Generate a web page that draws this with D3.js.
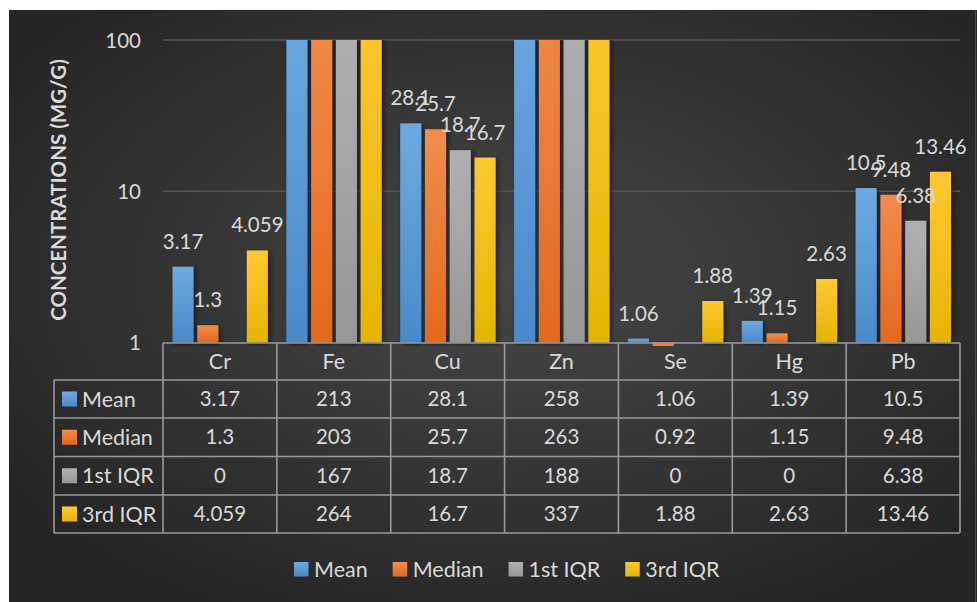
<!DOCTYPE html>
<html>
<head>
<meta charset="utf-8">
<script src="https://cdn.jsdelivr.net/npm/d3@7"></script>
<style>
  html, body { margin: 0; padding: 0; background: #ffffff; }
  svg { display: block; }
  text { font-family: Lato, "Open Sans", sans-serif; fill: #d9d9d9; }
</style>
</head>
<body>
<svg id="chart" width="977" height="602"></svg>
<script>
// Element concentrations (mg/g)
const categories = ["Cr", "Fe", "Cu", "Zn", "Se", "Hg", "Pb"];
const seriesNames = ["Mean", "Median", "1st IQR", "3rd IQR"];
const meanValues   = [3.17, 213, 28.1, 258, 1.06, 1.39, 10.5];
const medianValues = [1.3, 203, 25.7, 263, 0.92, 1.15, 9.48];
const iqr1Values   = [0, 167, 18.7, 188, 0, 0, 6.38];
const iqr3Values   = [4.059, 264, 16.7, 337, 1.88, 2.63, 13.46];
const yTicks = [1, 10, 100];

const seriesValues = [meanValues, medianValues, iqr1Values, iqr3Values];
const colorStops = [
  ["#6fa9e0", "#4a89cb"],
  ["#f28c4e", "#e3691c"],
  ["#b0b0b0", "#979797"],
  ["#ffc834", "#e6b400"]
];
const numSize = 20.5;  // numbers
const wordSize = 21.5; // names and legend text

const svg = d3.select("#chart");
const defs = svg.append("defs");

// chart background
const bg = defs.append("radialGradient").attr("id", "bgGrad")
  .attr("cx", "52%").attr("cy", "45%").attr("r", "62%");
bg.append("stop").attr("offset", "0%").attr("stop-color", "#474747");
bg.append("stop").attr("offset", "100%").attr("stop-color", "#262626");

colorStops.forEach((c, i) => {
  const g = defs.append("linearGradient").attr("id", "grad" + i)
    .attr("x1", 0).attr("y1", 0).attr("x2", 0).attr("y2", 1);
  g.append("stop").attr("offset", "0%").attr("stop-color", c[0]);
  g.append("stop").attr("offset", "100%").attr("stop-color", c[1]);
});

const shadow = defs.append("filter").attr("id", "barShadow")
  .attr("x", "-50%").attr("y", "-10%").attr("width", "200%").attr("height", "130%");
shadow.append("feDropShadow").attr("dx", 2).attr("dy", 2)
  .attr("stdDeviation", 2.5).attr("flood-color", "#000").attr("flood-opacity", 0.55);

const plot = { left: 163, right: 960, top: 40, bottom: 342.5 };
defs.append("clipPath").attr("id", "plotClip").append("rect")
  .attr("x", plot.left - 5).attr("y", plot.top)
  .attr("width", plot.right - plot.left + 10).attr("height", 346 - plot.top);

svg.append("rect").attr("x", 9).attr("y", 10).attr("width", 968).attr("height", 592)
  .attr("fill", "url(#bgGrad)");
svg.append("line").attr("x1", 975.5).attr("x2", 975.5).attr("y1", 10).attr("y2", 602)
  .attr("stroke", "#4a4a4a").attr("stroke-width", 1);

const x0 = d3.scaleBand().domain(categories).range([plot.left, plot.right]);
const x1 = d3.scaleBand().domain(seriesNames).range([9.5, x0.bandwidth() - 9]).paddingInner(0.15);
const y = d3.scaleLog().domain([1, 100]).range([plot.bottom, plot.top]);

// gridlines
svg.append("g").selectAll("line").data(yTicks.filter(t => t > 1)).join("line")
  .attr("x1", plot.left).attr("x2", plot.right)
  .attr("y1", d => y(d)).attr("y2", d => y(d))
  .attr("stroke", "#535353").attr("stroke-width", 1.5);

// y axis labels
const yAxis = d3.axisLeft(y).tickValues(yTicks).tickFormat(d3.format("d")).tickSize(0).tickPadding(0);
const yg = svg.append("g").attr("transform", `translate(141,0)`).call(yAxis);
yg.select(".domain").remove();
yg.selectAll("text").attr("font-size", numSize).attr("dy", "0.35em")
  .style("font-family", "Lato, sans-serif").attr("fill", "#d9d9d9");

svg.append("text").attr("transform", `translate(66,190) rotate(-90)`)
  .attr("text-anchor", "middle").attr("font-size", 20.5).attr("font-weight", "bold")
  .text("CONCENTRATIONS (MG/G)");

// bars
const barData = [];
seriesValues.forEach((vals, s) => {
  vals.forEach((v, c) => {
    barData.push({ series: seriesNames[s], s, cat: categories[c], v });
  });
});

const barsG = svg.append("g").attr("clip-path", "url(#plotClip)");
barsG.selectAll("rect").data(barData.filter(d => d.v > 0)).join("rect")
  .attr("x", d => x0(d.cat) + x1(d.series))
  .attr("width", x1.bandwidth())
  .attr("y", d => d.v >= 1 ? y(d.v) : y(1))
  .attr("height", d => Math.abs(y(d.v) - y(1)))
  .attr("fill", d => `url(#grad${d.s})`)
  .attr("filter", "url(#barShadow)");

// value labels
svg.append("g").selectAll("text")
  .data(barData.filter(d => d.v >= 1 && d.v <= 100)).join("text")
  .attr("x", d => x0(d.cat) + x1(d.series) + x1.bandwidth() / 2)
  .attr("y", d => y(d.v) - 18)
  .attr("text-anchor", "middle").attr("font-size", numSize)
  .text(d => String(d.v));

// data table
const rowTop = 343, headH = 37, rowH = [38, 38.5, 38.5, 38];
const rowY = [rowTop + headH];
rowH.forEach((h, i) => rowY.push(rowY[i] + h));
const tableLeft = 54;
const tbl = svg.append("g").attr("stroke", "#9a9a9a").attr("stroke-width", 1.6).attr("fill", "none");

tbl.append("line").attr("x1", plot.left).attr("x2", plot.right).attr("y1", rowTop).attr("y2", rowTop);
rowY.forEach(yy => tbl.append("line").attr("x1", tableLeft).attr("x2", plot.right).attr("y1", yy).attr("y2", yy));
tbl.append("line").attr("x1", tableLeft).attr("x2", tableLeft).attr("y1", rowY[0]).attr("y2", rowY[4]);
const colEdges = categories.map(c => x0(c)).concat([plot.right]);
colEdges.forEach(xx => tbl.append("line").attr("x1", xx).attr("x2", xx).attr("y1", rowTop).attr("y2", rowY[4]));

svg.append("g").selectAll("text").data(categories).join("text")
  .attr("x", d => x0(d) + x0.bandwidth() / 2)
  .attr("y", rowTop + headH / 2 + 7.5)
  .attr("text-anchor", "middle").attr("font-size", wordSize).text(d => d);

seriesNames.forEach((name, s) => {
  const cy = (rowY[s] + rowY[s + 1]) / 2;
  svg.append("rect").attr("x", 62).attr("y", cy - 7.5).attr("width", 15).attr("height", 15)
    .attr("fill", `url(#grad${s})`);
  svg.append("text").attr("x", 82).attr("y", cy + 7.5).attr("font-size", wordSize).text(name);
  svg.append("g").selectAll("text").data(seriesValues[s]).join("text")
    .attr("x", (d, c) => x0(categories[c]) + x0.bandwidth() / 2)
    .attr("y", cy + 7)
    .attr("text-anchor", "middle").attr("font-size", numSize)
    .text(d => String(d));
});

// legend
const legend = svg.append("g");
let lx = 294;
seriesNames.forEach((name, s) => {
  legend.append("rect").attr("x", lx).attr("y", 562).attr("width", 14.5).attr("height", 14.5)
    .attr("fill", `url(#grad${s})`);
  const t = legend.append("text").attr("x", lx + 20).attr("y", 577).attr("font-size", wordSize).text(name);
  lx += 20 + t.node().getComputedTextLength() + 25;
});
</script>
</body>
</html>
